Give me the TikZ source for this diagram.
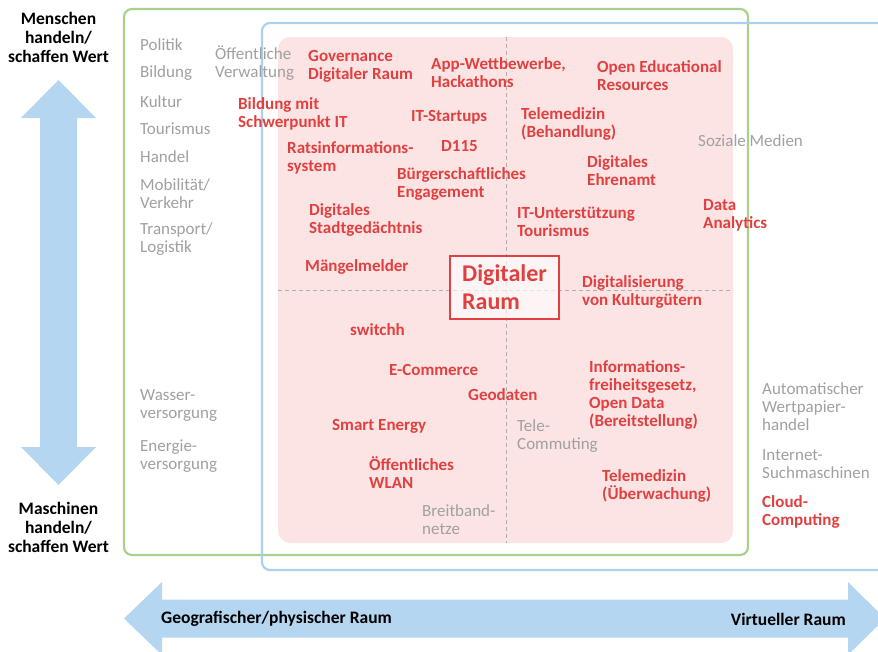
\documentclass[tikz,border=0pt]{standalone}
\usepackage{fontspec}
\setmainfont{Carlito}
\definecolor{txtred}{RGB}{224,64,64}
\definecolor{txtgray}{RGB}{160,160,160}
\definecolor{pinkfill}{RGB}{252,228,228}
\definecolor{framegreen}{RGB}{169,209,142}
\definecolor{frameblue}{RGB}{172,208,238}
\definecolor{arrowblue}{RGB}{180,214,240}
\definecolor{dashgray}{RGB}{175,175,175}
\tikzset{
  gtxt/.style={anchor=west, inner sep=0pt, yshift=-1.5pt, text=txtgray, align=left, font=\fontsize{17}{18}\selectfont},
  rtxt/.style={anchor=west, inner sep=0pt, yshift=-1.5pt, text=txtred, align=left, font=\fontsize{17}{18}\selectfont\bfseries},
  btxt/.style={inner sep=0pt, text=black, align=center, font=\fontsize{17.5}{19}\selectfont\bfseries},
  frame/.style={line width=2.2pt, rounded corners=8pt},
  quad/.style={dashgray, line width=0.8pt, dash pattern=on 4pt off 3pt},
  bigbox/.style={draw=txtred, line width=2.5pt, fill=white, fill opacity=0.65, text opacity=1, text=txtred,
    minimum width=109pt, minimum height=63pt, inner sep=0pt, align=left,
    font=\fontsize{24}{28}\selectfont\bfseries}
}
\begin{document}
\begin{tikzpicture}[x=1pt,y=-1pt]
\useasboundingbox (0,0) rectangle (878,651);
\clip (0,0) rectangle (878,651);
% pink field
\fill[pinkfill, rounded corners=12pt] (278,37) rectangle (733,543);
\draw[quad] (506,37) -- (506,543);
\draw[quad] (278,290) -- (733,290);
% frames
\draw[frame, framegreen] (124,9) rectangle (748,555);
\draw[frame, frameblue] (262,23) rectangle (900,570);
% arrows
\fill[arrowblue] (58.5,80) -- (96,118) -- (77,118) -- (77,447) -- (96,447) -- (58.5,485)
  -- (21,447) -- (40,447) -- (40,118) -- (21,118) -- cycle;
\fill[arrowblue] (124,618.5) -- (162,582) -- (162,599.5) -- (848,599.5) -- (848,582) -- (885,618.5)
  -- (848,655) -- (848,637.5) -- (162,637.5) -- (162,655) -- cycle;
% axis labels
\node[btxt] (men) at (58.5,37) {Menschen\\handeln/\\schaffen Wert};
\node[btxt] (mas) at (58.5,527) {Maschinen\\handeln/\\schaffen Wert};
\node[btxt, anchor=west] (geor) at (161,619) {Geografischer/physischer Raum};
\node[btxt, anchor=east] (vir) at (846,619) {Virtueller Raum};
% centre box
\node[bigbox] (dr) at (504.5,287.5) {Digitaler\\Raum};
% gray texts
\node[gtxt] (pol) at (140,43) {Politik};
\node[gtxt] (bil) at (140,72) {Bildung};
\node[gtxt] (kul) at (140,100) {Kultur};
\node[gtxt] (tou) at (140,127) {Tourismus};
\node[gtxt] (han) at (140,155) {Handel};
\node[gtxt] (mob) at (140,192) {Mobilität/\\Verkehr};
\node[gtxt] (tra) at (140,237.5) {Transport/\\Logistik};
\node[gtxt] (oev) at (215,62) {Öffentliche\\Verwaltung};
\node[gtxt] (was) at (140,404) {Wasser-\\versorgung};
\node[gtxt] (ene) at (140,455) {Energie-\\versorgung};
\node[gtxt] (soz) at (698,139) {Soziale Medien};
\node[gtxt] (tel) at (517,434.5) {Tele-\\Commuting};
\node[gtxt] (bre) at (422,518) {Breitband-\\netze};
\node[gtxt] (aut) at (762,405) {Automatischer\\Wertpapier-\\handel};
\node[gtxt] (int) at (762,462.5) {Internet-\\Suchmaschinen};
% red texts
\node[rtxt] (gov) at (308,65) {Governance\\Digitaler Raum};
\node[rtxt] (app) at (431,71.5) {App-Wettbewerbe,\\Hackathons};
\node[rtxt] (oer) at (597,74.5) {Open Educational\\Resources};
\node[rtxt] (bmi) at (238,112) {Bildung mit\\Schwerpunkt IT};
\node[rtxt] (its) at (411,116) {IT-Startups};
\node[rtxt] (tmb) at (521,122) {Telemedizin\\(Behandlung)};
\node[rtxt] (rat) at (287,156.5) {Ratsinformations-\\system};
\node[rtxt] (d115) at (441,145) {D115};
\node[rtxt] (bue) at (397,182) {Bürgerschaftliches\\Engagement};
\node[rtxt] (deh) at (587,169.5) {Digitales\\Ehrenamt};
\node[rtxt] (dsg) at (309,218) {Digitales\\Stadtgedächtnis};
\node[rtxt] (itu) at (517,220.5) {IT-Unterstützung\\Tourismus};
\node[rtxt] (dat) at (703,213.5) {Data\\Analytics};
\node[rtxt] (mae) at (305,265) {Mängelmelder};
\node[rtxt] (dku) at (582,290) {Digitalisierung\\von Kulturgütern};
\node[rtxt] (swi) at (350,328) {switchh};
\node[rtxt] (eco) at (389,368) {E-Commerce};
\node[rtxt] (geod) at (468,393) {Geodaten};
\node[rtxt] (ifg) at (589,393.5) {Informations-\\freiheitsgesetz,\\Open Data\\(Bereitstellung)};
\node[rtxt] (sme) at (332,425) {Smart Energy};
\node[rtxt] (wla) at (369,471) {Öffentliches\\WLAN};
\node[rtxt] (tmu) at (602,484) {Telemedizin\\(Überwachung)};
\node[rtxt] (clo) at (762,510) {Cloud-\\Computing};
\end{tikzpicture}
\end{document}
